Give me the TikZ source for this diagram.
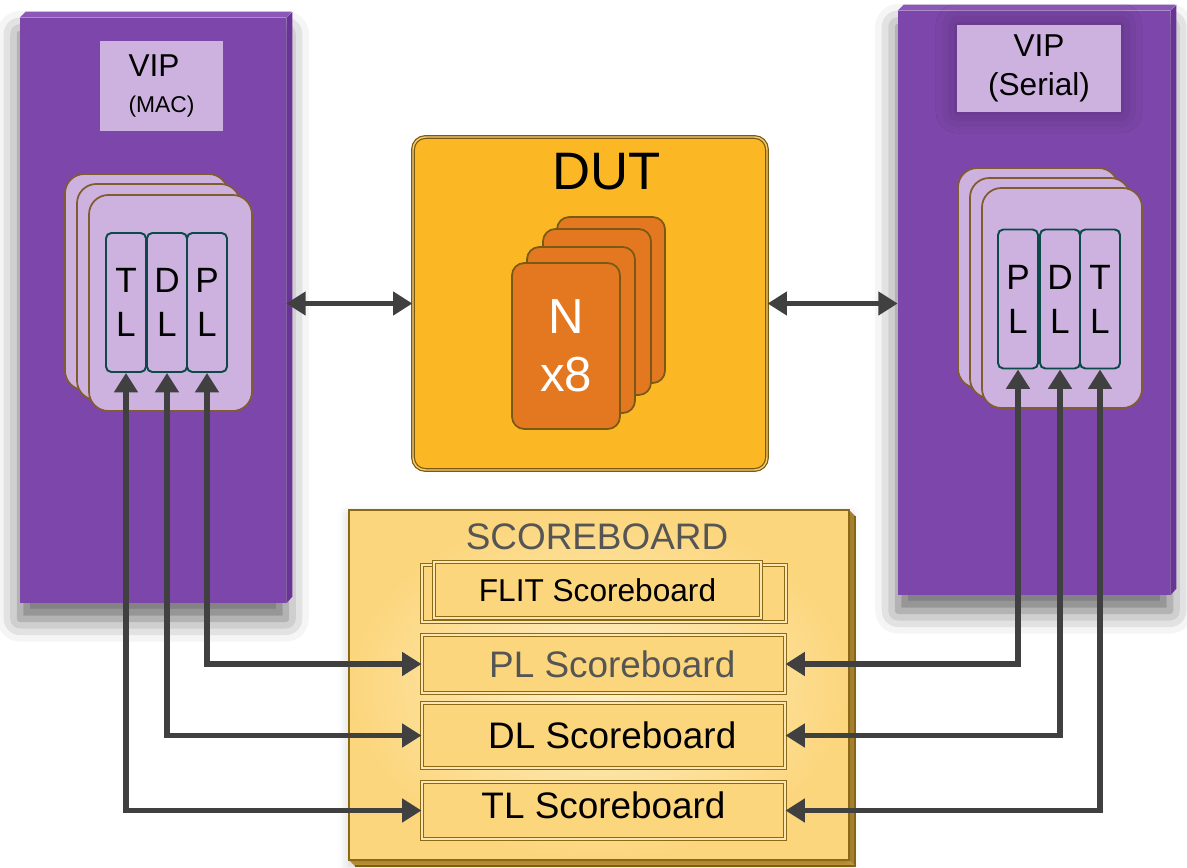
\documentclass[tikz,border=0pt]{standalone}
\usepackage{fontspec}
\setmainfont{Liberation Sans}
\usetikzlibrary{arrows.meta,shadows.blur}

\definecolor{vippurple}{RGB}{125,70,170}
\definecolor{viptop}{RGB}{140,88,184}
\definecolor{vipside}{RGB}{104,52,150}
\definecolor{viplight}{RGB}{205,178,224}
\definecolor{cardbrown}{RGB}{128,92,48}
\definecolor{lyrteal}{RGB}{12,74,74}
\definecolor{dutfill}{RGB}{251,184,36}
\definecolor{dutedge}{RGB}{120,90,20}
\definecolor{nfill}{RGB}{227,120,32}
\definecolor{sbouter}{RGB}{252,214,125}
\definecolor{sbinner}{RGB}{253,240,200}
\definecolor{sbedge}{RGB}{140,105,20}
\definecolor{sbbevel}{RGB}{205,160,60}
\definecolor{sbtext}{RGB}{85,85,85}
\definecolor{arrowgray}{RGB}{64,64,64}

\tikzset{
  vipbody/.style={rectangle, fill=vippurple, draw=none, inner sep=0pt,
    blur shadow={shadow xshift=0pt, shadow yshift=-9pt, shadow blur radius=13pt, shadow opacity=60}},
  viplabel/.style={rectangle, fill=viplight, inner sep=0pt},
  vipcard/.style={fill=viplight, draw=cardbrown, line width=1pt, rounded corners=11pt},
  lyr/.style={rectangle, fill=viplight, draw=lyrteal, line width=1.1pt, rounded corners=3pt,
    minimum width=0.8cm, minimum height=2.78cm, inner sep=0pt, align=center,
    font=\fontsize{20}{25}\selectfont},
  ncard/.style={rectangle, fill=nfill, draw=dutedge, line width=1pt, rounded corners=7pt,
    minimum width=2.16cm, minimum height=3.32cm, inner sep=0pt},
  sbbox/.style={rectangle, fill=sbouter, draw=sbedge, double=sbouter!60!white,
    double distance=0.9pt, line width=0.6pt, inner sep=0pt},
  biarrow/.style={draw=arrowgray, line width=3.2pt,
    {Triangle[width=13pt,length=11pt]}-{Triangle[width=13pt,length=11pt]}},
}

\begin{document}
\begin{tikzpicture}[x=0.02cm, y=-0.02cm]
\useasboundingbox (0,0) rectangle (1187,868);

% left VIP
\node[vipbody, minimum width=5.32cm, minimum height=11.7cm] (vipL) at (153,310.5) {};
\fill[viptop] (vipL.north west) -- ++(6,-6) -- ++(266,0) -- (vipL.north east) -- cycle;
\fill[vipside] (vipL.north east) -- ++(6,-6) -- ++(0,585) -- (vipL.south east) -- cycle;
\node[viplabel, minimum width=2.46cm, minimum height=1.8cm, align=left,
  font=\fontsize{18}{20}\selectfont] (vipLlbl) at (161.5,86)
  {VIP\\\fontsize{13}{19}\selectfont (MAC)};
\draw[vipcard] (65,174) rectangle ++(163,216);
\draw[vipcard] (77,184) rectangle ++(163,216);
\draw[vipcard] (89,195) rectangle ++(163,216);
\node[lyr] (tlL) at (126,302.5) {T\\L};
\node[lyr] (dlL) at (167,302.5) {D\\L};
\node[lyr] (plL) at (207,302.5) {P\\L};

% right VIP
\node[vipbody, minimum width=5.44cm, minimum height=11.68cm] (vipR) at (1034,303) {};
\fill[viptop] (vipR.north west) -- ++(6,-6) -- ++(272,0) -- (vipR.north east) -- cycle;
\fill[vipside] (vipR.north east) -- ++(6,-6) -- ++(0,584) -- (vipR.south east) -- cycle;
\node[viplabel, minimum width=3.28cm, minimum height=1.74cm, align=center,
  font=\fontsize{18}{22}\selectfont,
  blur shadow={shadow xshift=0pt, shadow yshift=0pt, shadow blur radius=12pt, shadow opacity=30}]
  (vipRlbl) at (1039,68.5) {VIP\\(Serial)};
\draw[vipcard] (958,168) rectangle ++(160,220);
\draw[vipcard] (970,178) rectangle ++(160,220);
\draw[vipcard] (982,188) rectangle ++(160,220);
\node[lyr] (plR) at (1018,299) {P\\L};
\node[lyr] (dlR) at (1060,299) {D\\L};
\node[lyr] (tlR) at (1100,299) {T\\L};

% DUT
\node[rectangle, fill=dutfill, draw=dutedge, double=dutfill!70!white, double distance=0.8pt,
  line width=0.7pt, rounded corners=7pt, minimum width=7.08cm, minimum height=6.66cm]
  (dut) at (590,303.5) {};
\node[font=\fontsize{30}{36}\selectfont] (dutlbl) at (607,172) {DUT};
\foreach \i/\dx/\dy in {4/45/-46, 3/31/-34, 2/15/-16}
  \node[ncard] (n\i) at ({566+\dx},{346+\dy}) {};
\node[ncard, text=white, align=center, font=\fontsize{28}{33}\selectfont] (n1) at (566,346) {N\\x8};

% scoreboard
\fill[sbbevel] (349,860) -- (355,866) -- (855,866) -- (849,860) -- cycle;
\fill[sbbevel!85!black] (849,510) -- (855,516) -- (855,866) -- (849,860) -- cycle;
\draw[sbedge, line width=0.6pt] (355,866) -- (855,866) -- (855,516);
\node[rectangle, draw=sbedge, line width=0.8pt, inner color=sbinner, outer color=sbouter,
  minimum width=10cm, minimum height=7cm,
  blur shadow={shadow xshift=0pt, shadow yshift=-3pt, shadow blur radius=6pt, shadow opacity=20}]
  (sb) at (599,685) {};
\node[text=sbtext, font=\fontsize{21}{25}\selectfont] (sbtitle) at (597,537) {SCOREBOARD};
\node[sbbox, minimum width=7.28cm, minimum height=1.14cm] (flitback) at (604,593.5) {};
\node[sbbox, minimum width=6.54cm, minimum height=1.12cm, font=\fontsize{18}{22}\selectfont]
  (flit) at (597.5,590) {FLIT Scoreboard};
\node[sbbox, minimum width=7.26cm, minimum height=1.16cm, text=sbtext,
  font=\fontsize{21}{25}\selectfont] (pls) at (603.5,664) {\hspace{10pt}PL Scoreboard};
\node[sbbox, minimum width=7.26cm, minimum height=1.3cm,
  font=\fontsize{21}{25}\selectfont] (dls) at (603.5,735.5) {\hspace{10pt}DL Scoreboard};
\node[sbbox, minimum width=7.26cm, minimum height=1.14cm,
  font=\fontsize{21}{25}\selectfont] (tls) at (603.5,810.5) {\raisebox{6pt}{TL Scoreboard}};

% connections
\draw[biarrow] (vipL.east |- dut.west) -- (dut.west);
\draw[biarrow] (dut.east) -- (dut.east -| vipR.west);
\draw[biarrow] (plL.south) |- (pls.west);
\draw[biarrow] (dlL.south) |- (dls.west);
\draw[biarrow] (tlL.south) |- (tls.west);
\draw[biarrow] (pls.east) -| (plR.south);
\draw[biarrow] (dls.east) -| (dlR.south);
\draw[biarrow] (tls.east) -| (tlR.south);

\end{tikzpicture}
\end{document}
